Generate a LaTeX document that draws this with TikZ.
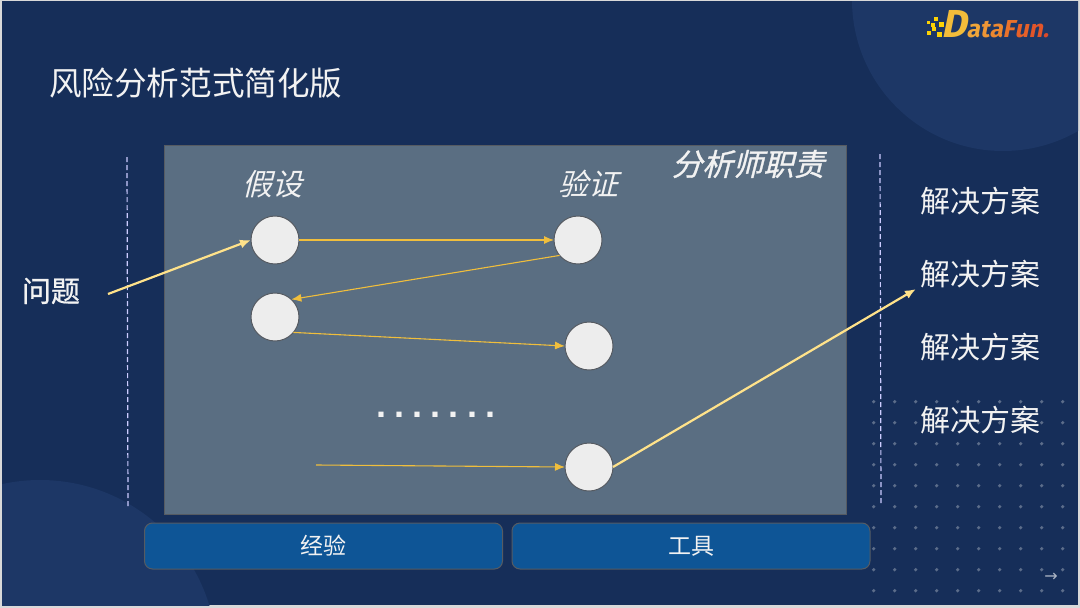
\documentclass[tikz,border=0pt]{standalone}
\usepackage{fontspec}
\usetikzlibrary{arrows.meta, positioning}

\setmainfont{Noto Sans CJK SC}
\newfontfamily\slantfont[FakeSlant=0.25]{Noto Sans CJK SC}
\newfontfamily\slantheavy[FakeSlant=0.25,FakeBold=1]{Noto Sans CJK SC}
\newfontfamily\heavyfont[FakeBold=0.7]{Noto Sans CJK SC}
\newfontfamily\logofont[FakeSlant=0.2]{Fira Sans}
\newfontfamily\dotfont{Liberation Sans}
\newfontfamily\symbfont{DejaVu Sans}

\definecolor{pagenavy}{HTML}{162E59}
\definecolor{blobnavy}{HTML}{1D3766}
\definecolor{panelgrey}{HTML}{5A6E82}
\definecolor{boxblue}{HTML}{0E5596}
\definecolor{edgegrey}{HTML}{565B62}
\definecolor{thingold}{HTML}{F0BE3C}
\definecolor{thickgold}{HTML}{FFE28A}
\definecolor{textwhite}{HTML}{F2F2F2}

\tikzset{
    every node/.style={text=textwhite, inner sep=0pt, outer sep=0pt},
    stage/.style={circle, draw=edgegrey, fill=white!93!black, line width=1pt, minimum size=48pt},
    panel/.style={draw=edgegrey, fill=panelgrey, line width=1pt},
    support/.style={draw=edgegrey, fill=boxblue, line width=1pt, rounded corners=8pt,
        minimum width=358pt, minimum height=46pt, font=\fontsize{23}{23}\selectfont},
    heading/.style={font=\fontsize{30}{30}\slantfont},
    solution/.style={font=\fontsize{30}{30}\selectfont},
    thin arrow/.style={-{Latex[length=10pt,width=8pt]}, draw=thingold, line width=1.1pt},
    thick arrow/.style={-{Latex[length=11pt,width=9pt]}, draw=thickgold, line width=2.2pt},
    divider/.style={draw=white!80!blue, line width=1.2pt, dash pattern=on 5pt off 3pt},
}

\begin{document}
\begin{tikzpicture}[x=1pt, y=-1pt]
        \useasboundingbox (0,0) rectangle (1080,608);
        \fill[white!85!black] (0,0) rectangle (1080,608);
        \begin{scope}
            \clip (2,1) rectangle (1078,605);
            \fill[pagenavy] (2,1) rectangle (1078,605);
            \fill[blobnavy] (1003,0) circle (151);
            \fill[blobnavy] (40,657) circle (177);
        \end{scope}

        % dots
        \foreach \i in {0,...,9}
            \foreach \j in {0,...,9}
                \fill[white!55!pagenavy, opacity=0.55] (873.7+21*\i,401.7+21*\j) circle (1.8);

        % logo
        \foreach \a/\b/\s in {928/22/3,933/25/3.5,936/19/4.5,941/24/5,929/33/3.5,934/29/3.5,939/34/5}
            \fill[yellow!70!orange] (\a-\s/2,\b-\s/2) rectangle (\a+\s/2,\b+\s/2);
        \node[anchor=base west, font=\fontsize{24.5}{24.5}\logofont\bfseries] (logo) at (941,37)
            {\textcolor[HTML]{F2BC3A}{\fontsize{39}{39}\selectfont D}\textcolor[HTML]{F0A63A}{a}\textcolor[HTML]{EE9636}{t}\textcolor[HTML]{EC8830}{a}\textcolor[HTML]{E9722B}{F}\textcolor[HTML]{E66028}{u}\textcolor[HTML]{E2552A}{n}\textcolor[HTML]{D94A2A}{.}};

        \node[anchor=west, font=\fontsize{32.6}{32.6}\selectfont] (title) at (49,83) {风险分析范式简化版};
        \node[font=\fontsize{29}{29}\heavyfont] (problem) at (51,291) {问题};

        \draw[divider] (127,157) coordinate (dl1) -- (128,508) coordinate (dl2);
        \draw[divider] (880,154) coordinate (dr1) -- (881,505) coordinate (dr2);

        \node[panel, anchor=north west, minimum width=682.5pt, minimum height=369.5pt] (analyst) at (164,145) {};
        \node[heading, font=\fontsize{30.5}{30.5}\slantheavy] (duty) at (748,164) {分析师职责};
        \node[heading] (assume) at (272,184) {假设};
        \node[heading] (verify) at (588,184) {验证};

        \node[stage] (h1) at (275,240) {};
        \node[stage, right=255pt of h1] (v1) {};
        \node[stage, below=29pt of h1] (h2) {};
        \node[stage] (v2) at (589,346) {};
        \node[stage] (v3) at (589,467) {};
        \node[font=\fontsize{36}{36}\dotfont\bfseries] (more) at (436,415) {.\kern8pt.\kern8pt.\kern8pt.\kern8pt.\kern8pt.\kern8pt.};

        \node[solution] (s1) at (980,201) {解决方案};
        \node[solution, below=45pt of s1] (s2) {解决方案};
        \node[solution, below=45pt of s2] (s3) {解决方案};
        \node[solution, below=45pt of s3] (s4) {解决方案};

        \node[support, anchor=north west] (experience) at (144.5,523) {经验};
        \node[support, right=9.5pt of experience] (tools) {工具};

        \node[font=\fontsize{16}{16}\symbfont, text=white!65!pagenavy] (next) at (1051,577) {→};

        \coordinate (start) at (108,294);
        \coordinate (open) at (316,465);
        \coordinate (finish) at (916,289);

        \draw[thick arrow] (start) -- (h1.west);
        \draw[thin arrow] (h1) -- (v1);
        \draw[thin arrow] (v1.220) -- (h2.47);
        \draw[thin arrow] (h2.-40) -- (v2.west);
        \draw[thin arrow] (open) -- (v3.west);
        \draw[thick arrow] (v3.east) -- (finish);
    \end{tikzpicture}
\end{document}
